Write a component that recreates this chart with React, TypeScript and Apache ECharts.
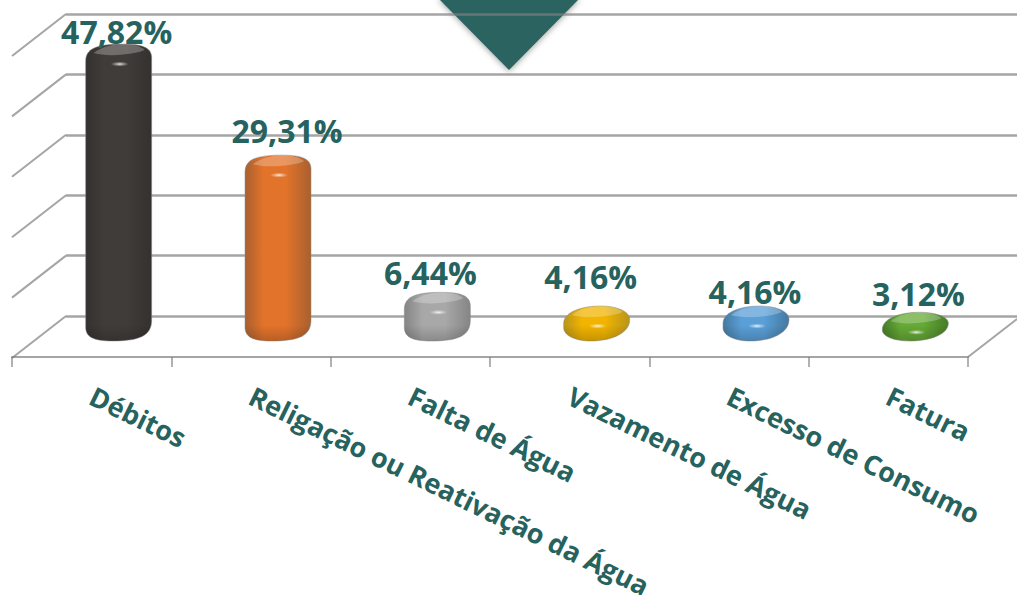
import React, { useEffect, useRef } from "react";
import * as echarts from "echarts";

const categories = ["Débitos", "Religação ou Reativação da Água", "Falta de Água", "Vazamento de Água", "Excesso de Consumo", "Fatura"];
const values = [47.82, 29.31, 6.44, 4.16, 4.16, 3.12];
const wallTicks = [0, 10, 20, 30, 40, 50];
const barCore = ["#403c3a", "#e2732b", "#a8a8a8", "#f2b400", "#5a9fd8", "#66aa36"];
const barEdge = ["#343130", "#a8602f", "#858585", "#b8951a", "#44799f", "#457c28"];
const labelDx = [-2, 9, -7, -6, -1, 3];
const labelDy = [-18, -30, -25, -35, -20, -24];
const TEAL = "#26625e";
const FONT = "'Open Sans', Lato, sans-serif";

function renderBar(params: any, api: any) {
  const i = api.value(0);
  const v = api.value(1);
  const [cx, yTop] = api.coord([i, v]);
  const [, yBase] = api.coord([i, 0]);
  const T = yTop - 5;
  const B = yBase + 5;
  const H = B - T;
  const x0 = cx - 33;
  const x1 = cx + 33;
  const lt = T + Math.min(17, H * 0.62);
  const lb = B - Math.min(14, H * 0.38);
  const rt = T + Math.min(14, H * 0.38);
  const rb = B - Math.min(21, H * 0.62);
  const k = H < 40 ? 0.58 : 0.72;
  const tx = cx + 4;
  const bx = cx - 6;
  const body =
    `M${x0} ${lt}C${x0} ${lt - (lt - T) * k} ${tx - (tx - x0) * k} ${T} ${tx} ${T}` +
    `C${tx + (x1 - tx) * k} ${T} ${x1} ${rt - (rt - T) * k} ${x1} ${rt}L${x1} ${rb}` +
    `C${x1} ${rb + (B - rb) * k} ${bx + (x1 - bx) * k} ${B} ${bx} ${B}` +
    `C${bx - (bx - x0) * k} ${B} ${x0} ${lb + (B - lb) * k} ${x0} ${lb}Z`;
  const cap =
    `M${cx - 25} ${T + 9}C${cx - 16} ${T + 2} ${cx - 4} ${T} ${cx + 4} ${T}` +
    `C${cx + 14} ${T} ${cx + 22} ${T + 2} ${cx + 26} ${T + 6}` +
    `C${cx + 14} ${T + 11} ${cx - 12} ${T + 13} ${cx - 25} ${T + 9}Z`;
  const shadeStart = Math.max(0, 1 - 16 / H);
  return {
    type: "group",
    children: [
      {
        type: "path",
        shape: { pathData: body },
        style: {
          fill: {
            type: "linear", x: 0, y: 0, x2: 1, y2: 0,
            colorStops: [
              { offset: 0, color: barEdge[i] },
              { offset: 0.28, color: barCore[i] },
              { offset: 0.62, color: barCore[i] },
              { offset: 1, color: barEdge[i] },
            ],
          },
          stroke: "rgba(140,140,140,0.5)",
          lineWidth: 1,
        },
      },
      {
        type: "path",
        shape: { pathData: body },
        style: {
          fill: {
            type: "linear", x: 0, y: 0, x2: 0, y2: 1,
            colorStops: [
              { offset: 0, color: "rgba(0,0,0,0)" },
              { offset: shadeStart, color: "rgba(0,0,0,0)" },
              { offset: 1, color: "rgba(0,0,0,0.18)" },
            ],
          },
        },
      },
      {
        type: "path",
        shape: { pathData: cap },
        style: { fill: "rgba(255,255,255,0.25)" },
      },
      {
        type: "ellipse",
        shape: { cx: cx + 1, cy: T + 20, rx: 9, ry: 2.5 },
        style: {
          fill: {
            type: "radial", x: 0.5, y: 0.5, r: 0.5,
            colorStops: [
              { offset: 0, color: "rgba(255,255,255,0.9)" },
              { offset: 0.4, color: "rgba(255,255,255,0.45)" },
              { offset: 1, color: "rgba(255,255,255,0)" },
            ],
          },
        },
      },
      {
        type: "text",
        style: {
          x: cx + labelDx[i],
          y: yTop + labelDy[i],
          text: v.toFixed(2).replace(".", ",") + "%",
          fill: TEAL,
          font: `bold 32px ${FONT}`,
          align: "center",
          verticalAlign: "middle",
        },
      },
    ],
  };
}

function renderWall(params: any, api: any) {
  const [x, y] = api.coord([0, api.value(0)]);
  return {
    type: "line",
    shape: { x1: x, y1: y, x2: x - 54, y2: y + 42 },
    style: { stroke: "rgba(127,127,127,0.7)", lineWidth: 2 },
  };
}

export default function App() {
  const ref = useRef<HTMLDivElement>(null);
  useEffect(() => {
    const chart = echarts.init(ref.current!, null, { renderer: "svg" });
    const hiddenCat = { type: "category", show: false, data: categories };
    chart.setOption({
      animation: false,
      backgroundColor: "#fff",
      grid: [
        { left: 66, right: 0, top: 14, bottom: 279, outerBoundsMode: "none" },
        { left: 12, right: 49, top: 300, bottom: 238, outerBoundsMode: "none" },
        { left: 39, right: 22, top: 36, bottom: 259, outerBoundsMode: "none" },
      ],
      xAxis: [
        { gridIndex: 0, type: "value", show: false, min: 0, max: 1 },
        {
          gridIndex: 1,
          type: "category",
          data: categories,
          axisLine: { lineStyle: { color: "rgba(127,127,127,0.7)", width: 2 } },
          axisTick: { show: true, length: 10, alignWithLabel: false, lineStyle: { color: "rgba(127,127,127,0.8)", width: 1.5 } },
          axisLabel: {
            interval: 0,
            rotate: -26,
            margin: 37,
            color: TEAL,
            fontFamily: FONT,
            fontWeight: "bold",
            fontSize: 27,
            hideOverlap: false,
          },
        },
        { gridIndex: 2, ...hiddenCat },
      ],
      yAxis: [
        {
          gridIndex: 0,
          type: "value",
          min: 0,
          max: 50,
          interval: 10,
          axisLine: { show: false },
          axisTick: { show: false },
          axisLabel: { show: false },
          splitLine: { show: true, lineStyle: { color: "rgba(127,127,127,0.7)", width: 2.5 } },
        },
        { gridIndex: 1, type: "value", show: false, splitLine: { show: false } },
        { gridIndex: 2, type: "value", show: false, min: 0, max: 50, splitLine: { show: false } },
      ],
      graphic: {
        elements: [
          {
            type: "polygon",
            z: -10,
            silent: true,
            shape: { points: [[438, -2], [580, -2], [509, 70]] },
            style: { fill: "#2a635e", shadowBlur: 6, shadowColor: "rgba(0,0,0,0.4)", shadowOffsetY: 1 },
          },
          {
            type: "line",
            shape: { x1: 968, y1: 357, x2: 1017, y2: 319 },
            style: { stroke: "rgba(127,127,127,0.7)", lineWidth: 2 },
          },
        ],
      },
      series: [
        {
          type: "custom",
          name: "wall",
          xAxisIndex: 0,
          yAxisIndex: 0,
          clip: false,
          silent: true,
          encode: { y: 0 },
          data: wallTicks.map((t) => [t]),
          renderItem: renderWall,
        },
        {
          type: "custom",
          name: "Motivos",
          xAxisIndex: 2,
          yAxisIndex: 2,
          clip: false,
          z: 5,
          encode: { x: 0, y: 1 },
          data: values.map((v, i) => [i, v]),
          renderItem: renderBar,
        },
      ],
    });
    return () => chart.dispose();
  }, []);
  return <div ref={ref} style={{ position: "fixed", left: 0, top: 0, width: 1017, height: 595 }} />;
}
